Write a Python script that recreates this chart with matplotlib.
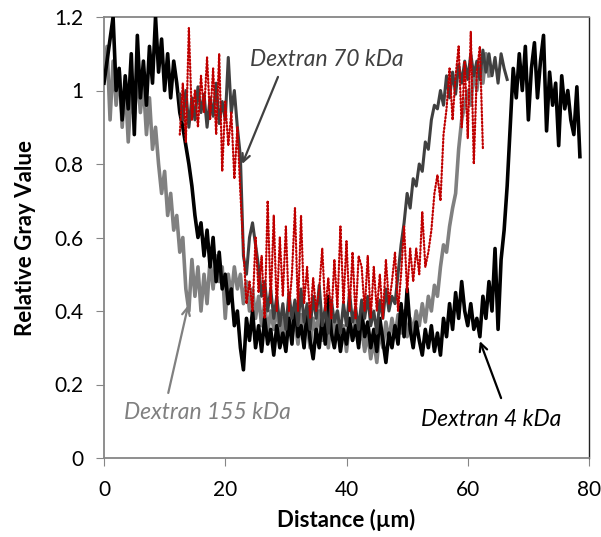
import numpy as np
import matplotlib
matplotlib.use("Agg")
import matplotlib.pyplot as plt

# ---------------- data ----------------
step = 0.5

# Dextran 4 kDa (black), x = 0 .. 78.5
x_black_start = 0.0
black = [1.02, 1.08, 1.14, 1.20, 1.00, 1.06, 0.92, 1.04, 0.95, 1.10,
         0.88, 1.15, 0.98, 1.08, 0.96, 1.12, 1.02, 1.20, 1.05, 1.14,
         1.00, 1.10, 0.98, 1.08, 1.02, 0.94, 0.90, 0.85, 0.80, 0.74,
         0.66, 0.60, 0.64, 0.55, 0.62, 0.52, 0.60, 0.48, 0.56, 0.46,
         0.50, 0.42, 0.46, 0.36, 0.40, 0.30, 0.24, 0.38, 0.32, 0.40,
         0.30, 0.36, 0.29, 0.38, 0.31, 0.35, 0.28, 0.36, 0.30, 0.34,
         0.29, 0.38, 0.31, 0.42, 0.33, 0.36, 0.30, 0.40, 0.32, 0.27,
         0.35, 0.30, 0.38, 0.31, 0.44, 0.34, 0.30, 0.36, 0.29, 0.35,
         0.31, 0.38, 0.32, 0.36, 0.30, 0.40, 0.33, 0.37, 0.30, 0.35,
         0.29, 0.38, 0.32, 0.26, 0.34, 0.30, 0.36, 0.31, 0.42, 0.33,
         0.46, 0.35, 0.30, 0.37, 0.32, 0.28, 0.35, 0.30, 0.36, 0.29,
         0.34, 0.28, 0.38, 0.33, 0.42, 0.35, 0.45, 0.38, 0.48, 0.40,
         0.36, 0.42, 0.35, 0.38, 0.33, 0.44, 0.38, 0.48, 0.40, 0.57,
         0.35, 0.54, 0.62, 0.74, 0.90, 1.06, 0.98, 1.10, 1.00, 1.12,
         0.92, 1.06, 1.13, 0.98, 1.08, 1.15, 0.89, 1.05, 0.96, 1.02,
         0.85, 1.04, 0.95, 1.00, 0.92, 0.88, 1.01, 0.82]

# Dextran 155 kDa (light gray), x = 0 .. 63.5
x_gray_start = 0.0
gray155 = [1.04, 1.12, 0.92, 1.08, 0.96, 1.06, 0.90, 1.02, 0.86, 1.00,
           0.92, 1.05, 0.94, 1.02, 0.88, 0.98, 0.84, 0.90, 0.80, 0.72,
           0.78, 0.66, 0.72, 0.62, 0.66, 0.56, 0.60, 0.46, 0.40, 0.54,
           0.44, 0.52, 0.40, 0.50, 0.42, 0.54, 0.46, 0.55, 0.48, 0.52,
           0.38, 0.50, 0.44, 0.52, 0.46, 0.50, 0.42, 0.48, 0.40, 0.46,
           0.38, 0.44, 0.36, 0.42, 0.34, 0.40, 0.35, 0.42, 0.33, 0.38,
           0.32, 0.40, 0.34, 0.37, 0.31, 0.39, 0.33, 0.36, 0.30, 0.38,
           0.34, 0.40, 0.32, 0.36, 0.30, 0.38, 0.33, 0.40, 0.31, 0.36,
           0.29, 0.37, 0.32, 0.39, 0.31, 0.35, 0.29, 0.34, 0.27, 0.32,
           0.26, 0.35, 0.30, 0.37, 0.32, 0.38, 0.33, 0.39, 0.34, 0.40,
           0.33, 0.38, 0.34, 0.40, 0.36, 0.42, 0.37, 0.44, 0.40, 0.47,
           0.44, 0.52, 0.58, 0.56, 0.63, 0.68, 0.72, 0.84, 0.92, 0.96,
           1.00, 0.96, 1.06, 1.00, 1.08, 1.02, 1.10, 1.04]

# Dextran 70 kDa (dark gray), x = 12.5 .. 66.5
x_dark_start = 12.5
dark70 = [0.99, 0.92, 1.00, 0.90, 0.98, 0.92, 1.01, 0.94, 0.99, 0.90,
          0.98, 0.93, 1.02, 0.91, 0.97, 0.92, 1.09, 0.94, 1.00, 0.90,
          0.82, 0.55, 0.50, 0.60, 0.64, 0.58, 0.52, 0.44, 0.48, 0.40,
          0.46, 0.38, 0.44, 0.36, 0.42, 0.35, 0.45, 0.38, 0.43, 0.36,
          0.46, 0.37, 0.42, 0.35, 0.44, 0.38, 0.47, 0.36, 0.41, 0.34,
          0.43, 0.37, 0.40, 0.34, 0.42, 0.36, 0.45, 0.37, 0.41, 0.35,
          0.43, 0.38, 0.44, 0.36, 0.40, 0.34, 0.43, 0.38, 0.46, 0.40,
          0.44, 0.42, 0.50, 0.58, 0.64, 0.72, 0.68, 0.76, 0.74, 0.80,
          0.78, 0.86, 0.84, 0.92, 0.96, 0.95, 1.00, 0.96, 1.04, 0.98,
          1.05, 0.99, 1.07, 1.02, 1.08, 1.03, 1.10, 1.04, 1.08, 1.03,
          1.11, 1.05, 1.10, 1.04, 1.09, 1.02, 1.10, 1.06, 1.03]

# red dotted profile, x = 12.5 .. 62.5
x_red_start = 12.5
red = [0.88, 1.02, 0.86, 1.17, 0.92, 1.00, 0.90, 1.04, 0.94, 1.09,
       0.92, 1.06, 0.88, 1.10, 0.78, 0.97, 0.85, 0.94, 0.76, 0.90,
       0.72, 0.57, 0.42, 0.48, 0.40, 0.60, 0.45, 0.55, 0.38, 0.70,
       0.42, 0.66, 0.40, 0.60, 0.44, 0.63, 0.40, 0.50, 0.68, 0.40,
       0.66, 0.42, 0.52, 0.38, 0.49, 0.40, 0.46, 0.57, 0.40, 0.49,
       0.38, 0.54, 0.41, 0.63, 0.42, 0.59, 0.40, 0.56, 0.38, 0.55,
       0.52, 0.40, 0.55, 0.38, 0.52, 0.40, 0.50, 0.38, 0.54, 0.42,
       0.48, 0.56, 0.40, 0.50, 0.63, 0.45, 0.57, 0.48, 0.57, 0.50,
       0.67, 0.52, 0.56, 0.62, 0.72, 0.77, 0.70, 0.88, 0.95, 1.06,
       0.92, 1.04, 1.12, 0.90, 1.08, 0.87, 1.16, 0.80, 1.05, 1.12,
       0.84]

x_ticks = [0, 20, 40, 60, 80]
y_ticks = [0, 0.2, 0.4, 0.6, 0.8, 1.0, 1.2]
y_tick_labels = ["0", "0.2", "0.4", "0.6", "0.8", "1", "1.2"]

def xs(start, vals):
    return start + step * np.arange(len(vals))

# ---------------- figure ----------------
plt.rcParams['font.family'] = ['Lato', 'DejaVu Sans']
fig = plt.figure(figsize=(6.01, 5.37), dpi=100)
ax = fig.add_axes([104/601, 1 - 458/537, (589-104)/601, (458-17)/537])

ax.plot(xs(x_gray_start, gray155), gray155, color='#808080', lw=2.6, zorder=2)
ax.plot(xs(x_black_start, black), black, color='#000000', lw=2.6, zorder=3)
ax.plot(xs(x_dark_start, dark70), dark70, color='#404040', lw=2.2, zorder=4)
ax.plot(xs(x_red_start, red), red, color='#C00000', lw=1.6, ls=(0, (0.6, 1.0)),
        dash_capstyle='round', zorder=5)

ax.set_xlim(0, 80)
ax.set_ylim(0, 1.2)
ax.set_xticks(x_ticks)
ax.set_yticks(y_ticks)
ax.set_yticklabels(y_tick_labels)
ax.tick_params(axis='both', direction='out', length=6, color='#868686',
               labelsize=15)
ax.tick_params(axis='x', pad=10)
ax.tick_params(axis='y', pad=9)

for s in ['left', 'bottom', 'top']:
    ax.spines[s].set_color('#868686')
    ax.spines[s].set_linewidth(1.3)
ax.spines['right'].set_color('#222222')
ax.spines['right'].set_linewidth(1.0)

ax.set_xlabel('Distance (µm)', fontsize=16, fontweight='bold', labelpad=6)
ax.set_ylabel('Relative Gray Value', fontsize=16, fontweight='bold', labelpad=13)

arrow_kw = dict(arrowstyle='->', lw=1.6, mutation_scale=14, shrinkA=0, shrinkB=0)
ax.text(36.8, 1.085, 'Dextran 70 kDa', fontsize=16.5, style='italic',
        color='#404040', ha='center', va='center')
ax.annotate('', xy=(22.8, 0.80), xytext=(28.7, 1.037),
            arrowprops=dict(color='#404040', **arrow_kw))
ax.text(17.0, 0.125, 'Dextran 155 kDa', fontsize=16.5, style='italic',
        color='#808080', ha='center', va='center')
ax.annotate('', xy=(13.9, 0.416), xytext=(10.6, 0.177),
            arrowprops=dict(color='#808080', **arrow_kw))
ax.text(63.8, 0.106, 'Dextran 4 kDa', fontsize=16.5, style='italic',
        color='#000000', ha='center', va='center')
ax.annotate('', xy=(62.0, 0.318), xytext=(65.5, 0.163),
            arrowprops=dict(color='#000000', **arrow_kw))

fig.savefig('out.png', dpi=100)
